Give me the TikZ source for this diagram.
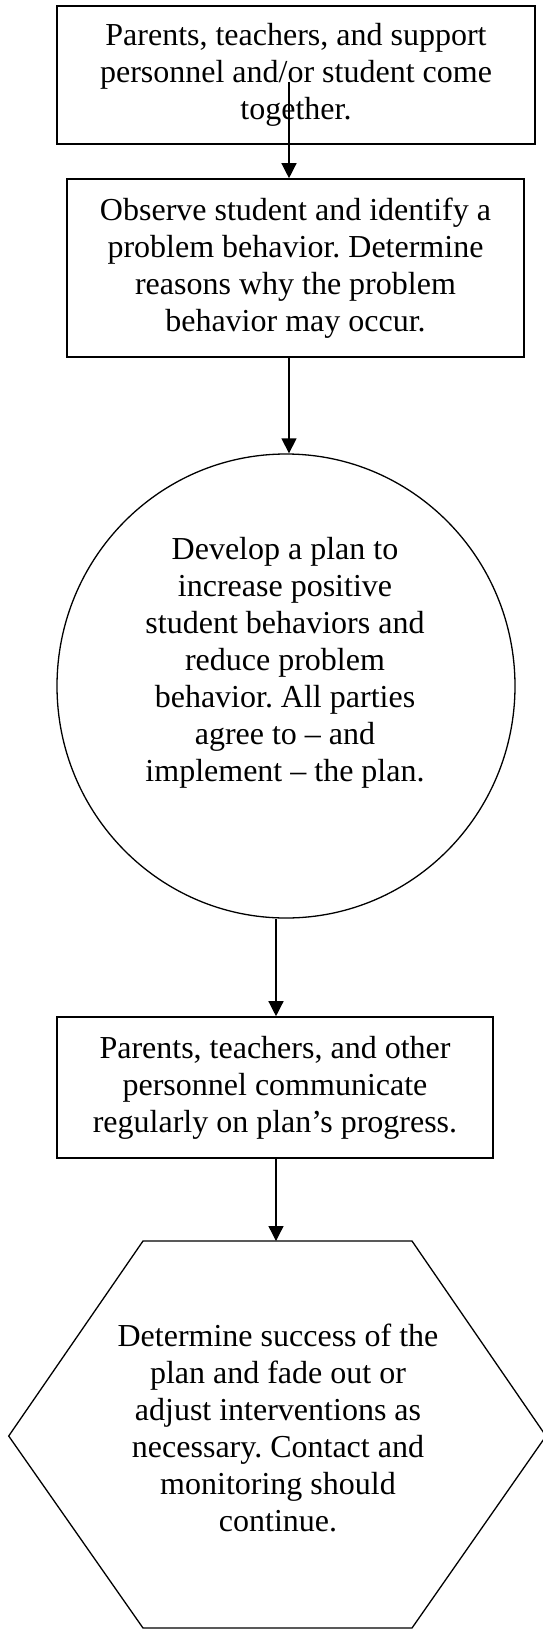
\documentclass[tikz,border=0pt]{standalone}
\usepackage{fontspec}
\setmainfont{Liberation Serif}
\usetikzlibrary{arrows.meta,shapes.geometric}
\frenchspacing
\tikzset{
  boxnode/.style={draw, line width=1.6bp, rectangle, inner sep=0pt, align=center,
    font=\fontsize{32bp}{37bp}\selectfont},
  txt/.style={align=center, inner sep=0pt, font=\fontsize{32bp}{37bp}\selectfont},
  shapeline/.style={draw, line width=1.3bp},
  conn/.style={line width=1.3bp, -{Triangle[length=15bp,width=15bp]}},
}
\begin{document}
\begin{tikzpicture}[x=1bp,y=-1bp]
\useasboundingbox (0,0) rectangle (543,1629);

\node[boxnode, minimum width=478bp, minimum height=138bp] (b1) at (296,75)
  {Parents, teachers, and support\\personnel and/or student come\\together.};

\node[boxnode, minimum width=457bp, minimum height=178bp] (b2) at (295.5,268)
  {Observe student and identify a\\problem behavior. Determine\\reasons why the problem\\behavior may occur.};

\node[shapeline, ellipse, inner sep=0pt, minimum width=458bp, minimum height=464bp] (c) at (286,686) {};
\node[txt] (ct) at (285,663)
  {Develop a plan to\\increase positive\\student behaviors and\\reduce problem\\behavior. All parties\\agree to -- and\\implement -- the plan.};

\node[boxnode, minimum width=436bp, minimum height=141bp] (b4) at (275,1087.5)
  {Parents, teachers, and other\\personnel communicate\\regularly on plan’s progress.};

\coordinate (h1) at (143,1241);
\coordinate (h2) at (412,1241);
\coordinate (h3) at (546,1436);
\coordinate (h4) at (412,1628);
\coordinate (h5) at (143,1628);
\coordinate (h6) at (8.7,1436);
\coordinate (h) at (277.5,1241);
\draw[shapeline] (h1) -- (h2) -- (h3) -- (h4) -- (h5) -- (h6) -- cycle;
\node[txt] (ht) at (278,1428)
  {Determine success of the\\plan and fade out or\\adjust interventions as\\necessary. Contact and\\monitoring should\\continue.};

\coordinate (s1) at (289,82);
\coordinate (s3) at (276,0);
\draw[conn] (s1) -- (s1 |- b2.north);
\draw[conn] (b2.south -| s1) -- (s1 |- c.north);
\draw[conn] (s3 |- c.south) -- (s3 |- b4.north);
\draw[conn] (s3 |- b4.south) -- (s3 |- h);
\end{tikzpicture}
\end{document}
